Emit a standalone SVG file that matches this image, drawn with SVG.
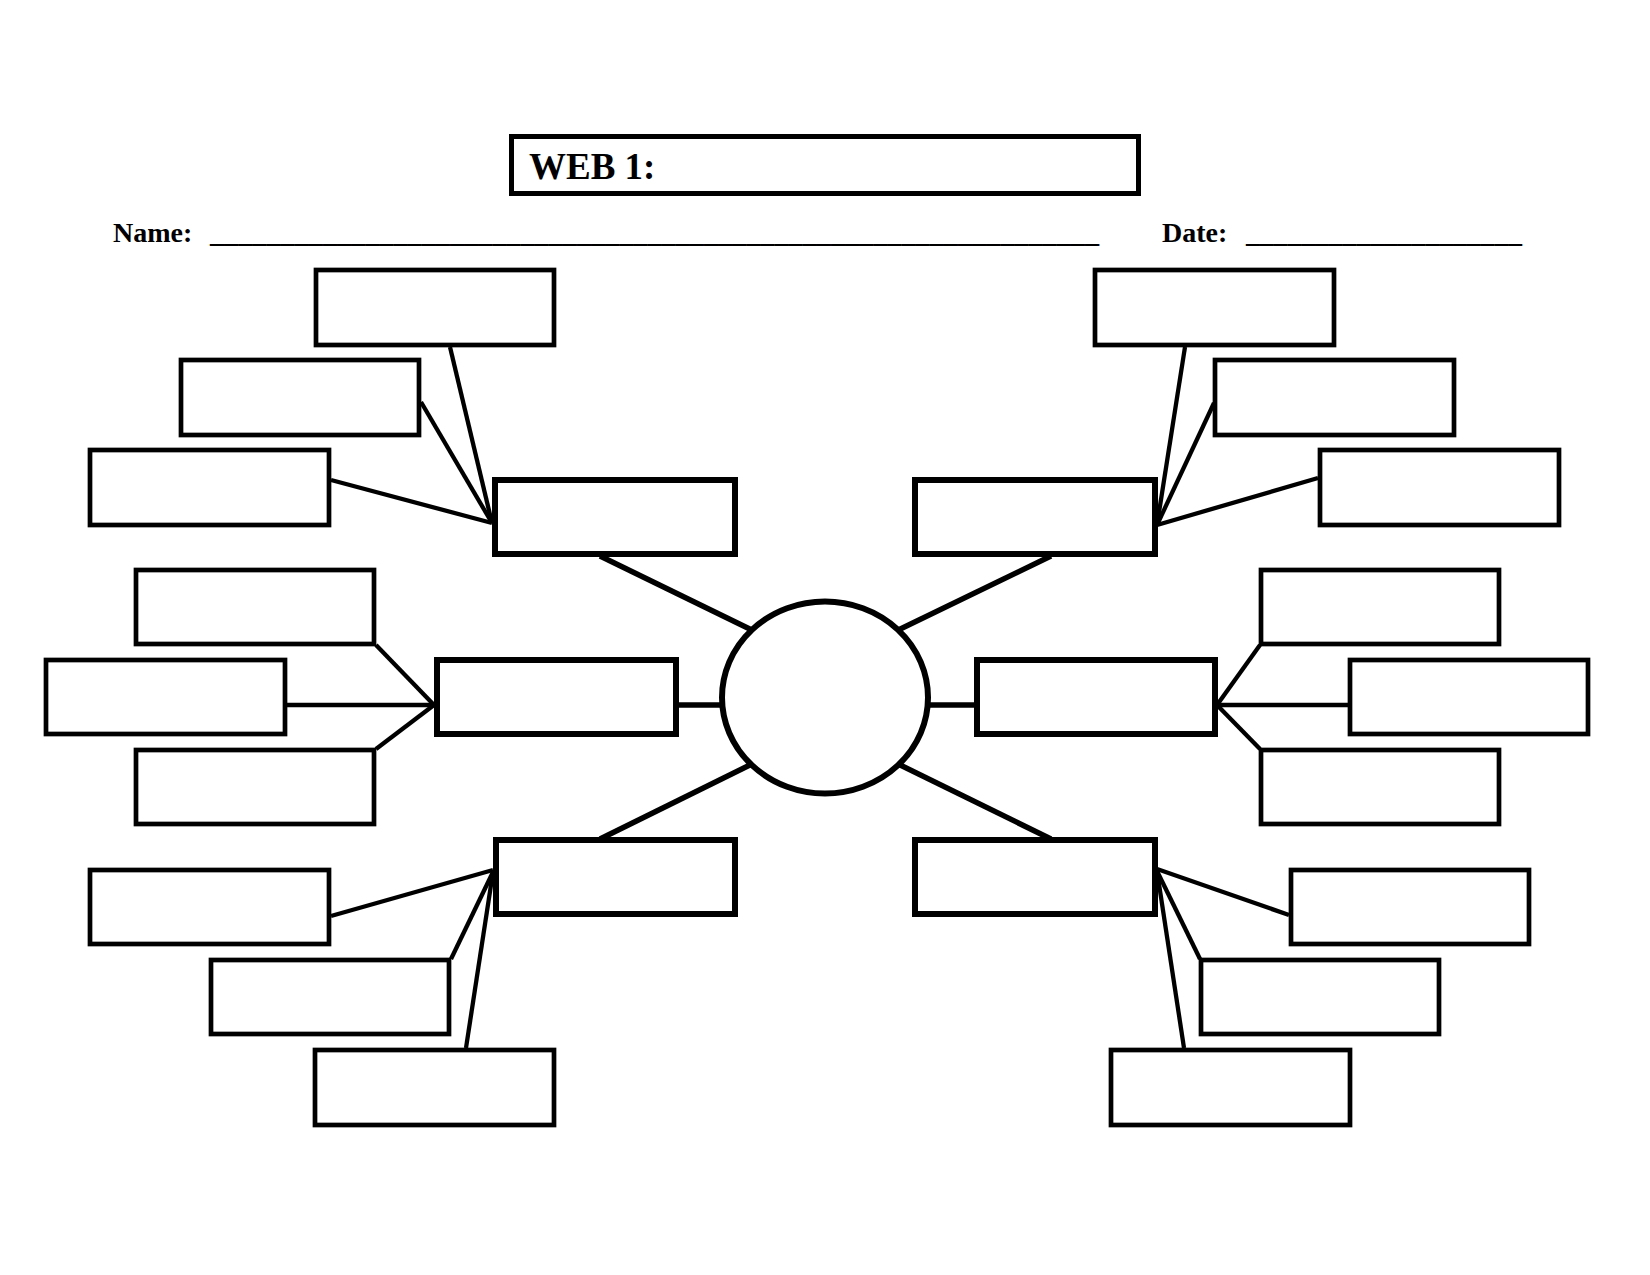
<svg xmlns="http://www.w3.org/2000/svg" width="1650" height="1275" viewBox="0 0 1650 1275">
<style>
.leaf{fill:#fff;stroke:#000;stroke-width:4.7}
.mid{fill:#fff;stroke:#000;stroke-width:6}
.title{fill:#fff;stroke:#000;stroke-width:5}
.hub{fill:#fff;stroke:#000;stroke-width:6}
.c1{stroke:#000;stroke-width:4.3;fill:none;stroke-linecap:butt}
.c2{stroke:#000;stroke-width:5.5;fill:none}
.t{font-family:"Liberation Serif","Times New Roman",serif;font-weight:bold;fill:#000}
</style>
<rect width="1650" height="1275" fill="#fff"/>
<g id="connectors">
<line class="c1" x1="450" y1="347" x2="492" y2="523"/>
<line class="c1" x1="421" y1="402" x2="492" y2="523"/>
<line class="c1" x1="331" y1="480" x2="492" y2="523"/>
<line class="c1" x1="376" y1="645" x2="434" y2="705"/>
<line class="c1" x1="287" y1="705" x2="434" y2="705"/>
<line class="c1" x1="376" y1="749" x2="434" y2="705"/>
<line class="c1" x1="331" y1="916" x2="493" y2="870"/>
<line class="c1" x1="451" y1="959" x2="493" y2="872"/>
<line class="c1" x1="466" y1="1048" x2="493" y2="872"/>
<line class="c1" x1="1185" y1="347" x2="1157" y2="525"/>
<line class="c1" x1="1214" y1="403" x2="1157" y2="525"/>
<line class="c1" x1="1318" y1="478" x2="1157" y2="525"/>
<line class="c1" x1="1260" y1="645" x2="1217" y2="705"/>
<line class="c1" x1="1348" y1="705" x2="1217" y2="705"/>
<line class="c1" x1="1260" y1="749" x2="1217" y2="705"/>
<line class="c1" x1="1289" y1="915" x2="1157" y2="869"/>
<line class="c1" x1="1200" y1="959" x2="1157" y2="871"/>
<line class="c1" x1="1184" y1="1048" x2="1157" y2="871"/>
<line class="c2" x1="600" y1="556" x2="760" y2="634"/>
<line class="c2" x1="1051" y1="556" x2="890" y2="634"/>
<line class="c2" x1="600" y1="839" x2="760" y2="760"/>
<line class="c2" x1="1051" y1="839" x2="890" y2="760"/>
<line class="c2" x1="674" y1="705" x2="730" y2="705"/>
<line class="c2" x1="920" y1="705" x2="977" y2="705"/>
</g>
<g id="title"><rect class="title" x="511.5" y="136.5" width="627" height="57"/><text class="t" x="529" y="179" font-size="37">WEB 1:</text></g>
<g id="name"><text class="t" x="113" y="242" font-size="28">Name:</text><text class="t" x="210" y="242" font-size="28" textLength="889" lengthAdjust="spacingAndGlyphs">_______________________________________________________________</text></g>
<g id="date"><text class="t" x="1162" y="242" font-size="28">Date:</text><text class="t" x="1246" y="242" font-size="28" textLength="276" lengthAdjust="spacingAndGlyphs">____________________</text></g>
<g id="hub"><ellipse class="hub" cx="825" cy="697.5" rx="103" ry="96"/></g>
<g id="m1"><rect class="mid" x="495" y="480" width="240" height="74"/></g>
<g id="m2"><rect class="mid" x="915" y="480" width="240" height="74"/></g>
<g id="ml"><rect class="mid" x="437" y="660" width="239" height="74"/></g>
<g id="mr"><rect class="mid" x="977" y="660" width="238" height="74"/></g>
<g id="m3"><rect class="mid" x="496" y="840" width="239" height="74"/></g>
<g id="m4"><rect class="mid" x="915" y="840" width="240" height="74"/></g>
<g id="b1"><rect class="leaf" x="316" y="270" width="238" height="75"/></g>
<g id="b2"><rect class="leaf" x="181" y="360" width="238" height="75"/></g>
<g id="b3"><rect class="leaf" x="90" y="450" width="239" height="75"/></g>
<g id="lm1"><rect class="leaf" x="136" y="570" width="238" height="74"/></g>
<g id="lm2"><rect class="leaf" x="46" y="660" width="239" height="74"/></g>
<g id="lm3"><rect class="leaf" x="136" y="750" width="238" height="74"/></g>
<g id="lb1"><rect class="leaf" x="90" y="870" width="239" height="74"/></g>
<g id="lb2"><rect class="leaf" x="211" y="960" width="238" height="74"/></g>
<g id="lb3"><rect class="leaf" x="315" y="1050" width="239" height="75"/></g>
<g id="rt1"><rect class="leaf" x="1095" y="270" width="239" height="75"/></g>
<g id="rt2"><rect class="leaf" x="1215" y="360" width="239" height="75"/></g>
<g id="rt3"><rect class="leaf" x="1320" y="450" width="239" height="75"/></g>
<g id="rm1"><rect class="leaf" x="1261" y="570" width="238" height="74"/></g>
<g id="rm2"><rect class="leaf" x="1350" y="660" width="238" height="74"/></g>
<g id="rm3"><rect class="leaf" x="1261" y="750" width="238" height="74"/></g>
<g id="rb1"><rect class="leaf" x="1291" y="870" width="238" height="74"/></g>
<g id="rb2"><rect class="leaf" x="1201" y="960" width="238" height="74"/></g>
<g id="rb3"><rect class="leaf" x="1111" y="1050" width="239" height="75"/></g>
</svg>
